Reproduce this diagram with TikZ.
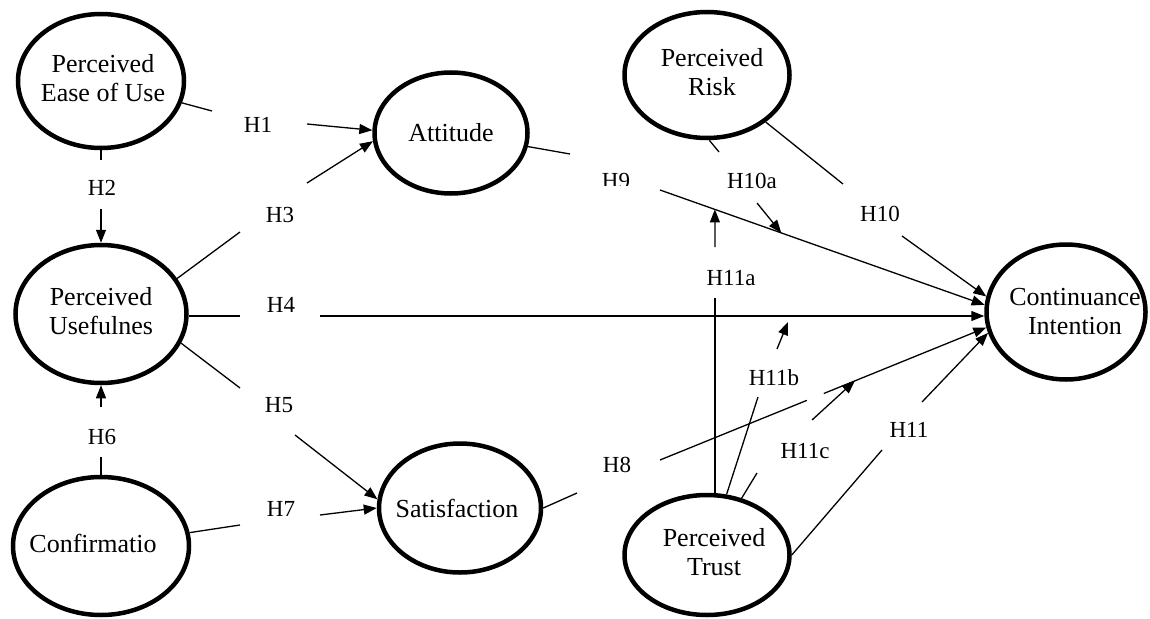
\documentclass[tikz,border=0pt]{standalone}
\usepackage{fontspec}
\setmainfont{Liberation Serif}
\usetikzlibrary{arrows.meta,shapes.geometric,calc}
\begin{document}
\begin{tikzpicture}[x=1pt,y=-1pt,
  oval/.style={draw, ellipse, line width=4.5pt, inner sep=0pt},
  ctext/.style={font=\fontsize{26}{29}\selectfont, align=center, inner sep=0pt},
  hlab/.style={font=\fontsize{23}{26}\selectfont, inner sep=0pt},
  conn/.style={line width=1.3pt},
  arr/.style={conn, -{Triangle[length=13pt,width=10pt]}},
]
\useasboundingbox (0,0) rectangle (1150,618);

% construct ellipses
\node[oval, minimum width=166pt, minimum height=134pt] (peou) at (101,81) {};
\node[ctext] (peout) at (103,78) {Perceived\\Ease of Use};
\node[oval, minimum width=171pt, minimum height=138pt] (pu) at (101,314) {};
\node[ctext] (put) at (101,311) {Perceived\\Usefulnes};
\node[oval, minimum width=176pt, minimum height=138pt] (conf) at (101,546) {};
\node[ctext] (conft) at (93,543) {Confirmatio};
\node[oval, minimum width=153pt, minimum height=121pt] (att) at (451,133) {};
\node[ctext] (attt) at (451,133) {Attitude};
\node[oval, minimum width=165pt, minimum height=126pt] (risk) at (707,75) {};
\node[ctext] (riskt) at (712,72) {Perceived\\Risk};
\node[oval, minimum width=162pt, minimum height=129pt] (sat) at (460,508) {};
\node[ctext] (satt) at (457,508) {Satisfaction};
\node[oval, minimum width=165pt, minimum height=120pt] (trust) at (707,555) {};
\node[ctext] (trustt) at (714,552) {Perceived\\Trust};
\node[oval, minimum width=159pt, minimum height=135pt] (ci) at (1066,312) {};
\node[ctext] (cit) at (1075,312) {Continuance\\Intention};

% free ends
\coordinate (h1s) at (212,111);  \coordinate (h1e) at (307,124);
\coordinate (h2s) at (101,160);  \coordinate (h2e) at (101,209);
\coordinate (h3s) at (240,232);  \coordinate (h3e) at (307,183);
\coordinate (h4s) at (240,316);  \coordinate (h4e) at (320,316);
\coordinate (h5s) at (240,388);  \coordinate (h5e) at (295,435);
\coordinate (h6s) at (101,457);  \coordinate (h6e) at (101,407);
\coordinate (h7s) at (240,525);  \coordinate (h7e) at (320,515);
\coordinate (h8s) at (577,493);  \coordinate (h8e) at (660,460);
\coordinate (h9s) at (570,154);  \coordinate (h9e) at (660,190);
\coordinate (h10as) at (719,152); \coordinate (h10ae) at (757,203);
\coordinate (h10s) at (843,184); \coordinate (h10e) at (902,236);
\coordinate (h11as) at (715,298); \coordinate (h11ae) at (715,247);
\coordinate (h11bs) at (758,397); \coordinate (h11be) at (777,349);
\coordinate (h11cs) at (757,473); \coordinate (h11ce) at (812,420);
\coordinate (h11s) at (882,450); \coordinate (h11e) at (922,402);
% points on paths
\coordinate (m11a) at ($(h9e)!0.169!(ci.175)$);
\coordinate (m10a) at ($(h9e)!0.3735!(ci.175)$);
\coordinate (m11b) at (788,322);
\coordinate (h8g1) at ($(h8e)!0.45!(ci.191)$);
\coordinate (h8g2) at ($(h8e)!0.502!(ci.191)$);
\coordinate (m11c) at ($(h8e)!0.597!(ci.191)$);

% H1
\draw[conn] (peou) -- (h1s);
\node[hlab] (l1) at (258,125) {H1};
\draw[arr] (h1e) -- (att.178);
% H2
\draw[conn] (peou) -- (h2s);
\node[hlab] (l2) at (102,188) {H2};
\draw[arr] (h2e) -- (pu);
% H3
\draw[conn] (pu.25) -- (h3s);
\node[hlab] (l3) at (280,215) {H3};
\draw[arr] (h3e) -- (att.186);
% H4
\draw[conn] (h4s -| pu.east) -- (h4s);
\node[hlab] (l4) at (281,305) {H4};
\draw[arr] (h4e) -- (h4e -| ci.west);
% H5
\draw[conn] (pu.340) -- (h5s);
\node[hlab] (l5) at (279,405) {H5};
\draw[arr] (h5e) -- (sat.174);
% H6
\draw[conn] (conf) -- (h6s);
\node[hlab] (l6) at (102,437) {H6};
\draw[arr] (h6e) -- (pu);
% H7
\draw[conn] (conf) -- (h7s);
\node[hlab] (l7) at (281,509) {H7};
\draw[arr] (h7e) -- (sat.west);
% H8
\draw[conn] (sat.east) -- (h8s);
\node[hlab] (l8) at (617,465) {H8};
\draw[conn] (h8e) -- (h8g1);
\draw[arr] (h8g2) -- (ci.191);
% H9
\draw[conn] (att) -- (h9s);
\begin{scope}
\clip (590,160) rectangle (645,185);
\node[hlab] (l9) at (616,181) {H9};
\end{scope}
\draw[arr] (h9e) -- (ci.175);
% H10a
\draw[conn] (risk.272) -- (h10as);
\node[hlab] (l10a) at (752,181) {H10a};
\draw[arr] (h10ae) -- (m10a);
% H10
\draw[conn] (risk) -- (h10s);
\node[hlab] (l10) at (880,214) {H10};
\draw[arr] (h10e) -- (ci.169);
% H11a
\draw[conn] (h11as |- trust.north) -- (h11as);
\node[hlab] (l11a) at (731,278) {H11a};
\draw[arr] (h11ae) -- (m11a);
% H11b
\draw[conn] (trust) -- (h11bs);
\node[hlab] (l11b) at (774,378) {H11b};
\draw[arr] (h11be) -- (m11b);
% H11c
\draw[conn] (trust) -- (h11cs);
\node[hlab] (l11c) at (805,451) {H11c};
\draw[arr] (h11ce) -- (m11c);
% H11
\draw[conn] (trust.east) -- (h11s);
\node[hlab] (l11) at (909,430) {H11};
\draw[arr] (h11e) -- (ci.195);
\end{tikzpicture}
\end{document}
